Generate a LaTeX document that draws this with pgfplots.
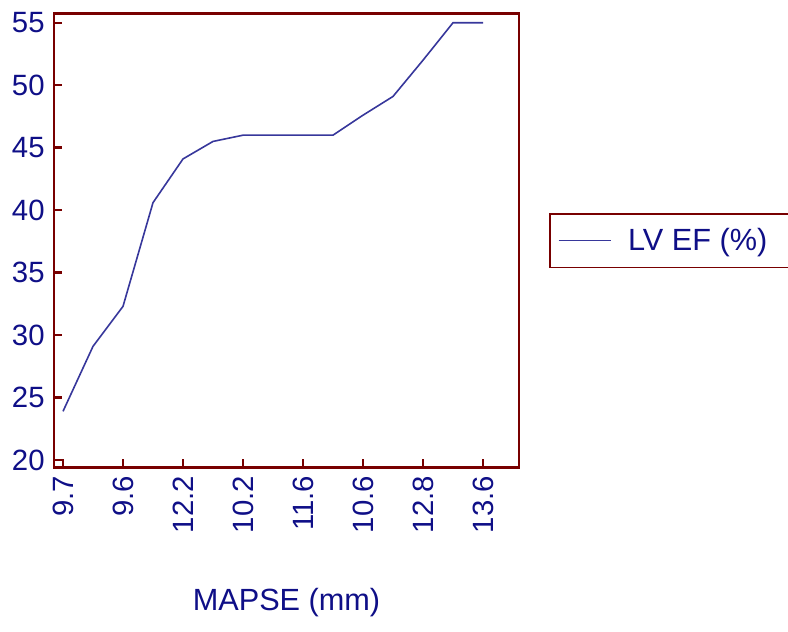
\documentclass[border=0pt]{standalone}
\usepackage{pgfplots}
\pgfplotsset{compat=1.18}
\usepackage{fontspec}
\setmainfont{Liberation Sans}
\definecolor{frame}{RGB}{120,0,0}
\definecolor{lab}{RGB}{15,15,135}
\definecolor{ln}{RGB}{55,55,155}
\begin{document}
\begin{tikzpicture}
\begin{axis}[
  scale only axis,
  width=348.75pt, height=340.2pt,
  xmin=-0.3, xmax=15.2,
  ymin=19.42, ymax=55.72,
  xtick={0,2,4,6,8,10,12,14},
  xticklabels={9.7,9.6,12.2,10.2,11.6,10.6,12.8,13.6},
  ytick={20,25,30,35,40,45,50,55},
  tick align=inside,
  xtick pos=bottom, ytick pos=left,
  major tick length=6pt,
  every tick/.style={frame, line width=1.8pt},
  axis line style={frame, line width=2.1pt},
  /pgf/number format/assume math mode=true,
  ticklabel style={font=\fontsize{22}{26}\selectfont, text=lab},
  xticklabel style={rotate=90, anchor=east, xshift=-3pt},
  yticklabel style={xshift=-3.5pt},
  xlabel={MAPSE (mm)},
  xlabel style={at={(axis description cs:0.5,-0.299)}, anchor=center, font=\fontsize{23}{27}\selectfont, text=lab},
  legend style={at={(axis description cs:1.0645,0.5606)}, anchor=north west,
     draw=frame, line width=1.3pt, font=\fontsize{23}{27}\selectfont, text=lab,
     inner xsep=6pt, inner ysep=9pt},
  legend image code/.code={\draw[ln, line width=1.2pt] (0pt,0pt) -- (39pt,0pt);},
  legend cell align=left,
]
\addplot[ln, line width=1.2pt] coordinates {
(0,23.9) (1,29.1) (2,32.3) (3,40.6) (4,44.1) (5,45.5) (6,46.0) (7,46.0)
(8,46.0) (9,46.0) (10,47.6) (11,49.1) (12,52.0) (13,55.0) (14,55.0)
};
\addlegendentry{\kern10.5pt LV EF (\%)\kern30pt}
\end{axis}
\pgfresetboundingbox
\path (-40.5pt,-122.8pt) rectangle (550.5pt,350.5pt);
\end{tikzpicture}
\end{document}
